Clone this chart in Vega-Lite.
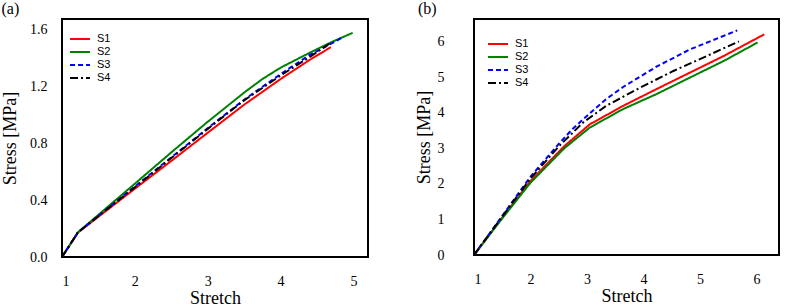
{
  "$schema": "https://vega.github.io/schema/vega-lite/v6.json",
  "padding": {"left": 0, "top": 0, "right": 0, "bottom": 0},
  "spacing": 45,
  "config": {
    "view": {"stroke": "black", "strokeWidth": 2},
    "axis": {"domain": false, "ticks": false, "grid": false, "labelFont": "Liberation Serif", "labelFontSize": 14, "labelColor": "black", "titleFont": "Liberation Serif", "titleFontSize": 18, "titleFontWeight": "normal", "titleColor": "black"},
    "axisX": {"labelPadding": 17, "titlePadding": 1},
    "title": {"font": "Liberation Serif", "fontSize": 16, "fontWeight": "normal", "anchor": "start", "frame": "bounds", "color": "black", "offset": 2},
    "legend": {"labelFont": "Liberation Sans", "labelFontSize": 11, "labelColor": "black", "symbolType": "M-1.5,0H1.5", "symbolSize": 177, "symbolStrokeWidth": 2, "labelOffset": 9, "padding": 0, "rowPadding": 0}
  },
  "hconcat": [
    {
      "title": {"text": "(a)", "dx": 0},
      "width": 306,
      "height": 238,
      "data": {"values": [
        {"s": "S1", "x": 1, "y": 0}, {"s": "S1", "x": 1.22, "y": 0.172}, {"s": "S1", "x": 2, "y": 0.48}, {"s": "S1", "x": 2.5, "y": 0.675}, {"s": "S1", "x": 3, "y": 0.873}, {"s": "S1", "x": 3.5, "y": 1.07}, {"s": "S1", "x": 4, "y": 1.25}, {"s": "S1", "x": 4.4, "y": 1.385}, {"s": "S1", "x": 4.69, "y": 1.474},
        {"s": "S2", "x": 1, "y": 0}, {"s": "S2", "x": 1.22, "y": 0.174}, {"s": "S2", "x": 2, "y": 0.515}, {"s": "S2", "x": 2.5, "y": 0.735}, {"s": "S2", "x": 3, "y": 0.95}, {"s": "S2", "x": 3.5, "y": 1.155}, {"s": "S2", "x": 3.75, "y": 1.25}, {"s": "S2", "x": 4, "y": 1.33}, {"s": "S2", "x": 4.4, "y": 1.435}, {"s": "S2", "x": 4.7, "y": 1.51}, {"s": "S2", "x": 4.99, "y": 1.575},
        {"s": "S3", "x": 1, "y": 0}, {"s": "S3", "x": 1.22, "y": 0.174}, {"s": "S3", "x": 2, "y": 0.495}, {"s": "S3", "x": 2.5, "y": 0.7}, {"s": "S3", "x": 3, "y": 0.905}, {"s": "S3", "x": 3.5, "y": 1.105}, {"s": "S3", "x": 4, "y": 1.285}, {"s": "S3", "x": 4.4, "y": 1.42}, {"s": "S3", "x": 4.7, "y": 1.5}, {"s": "S3", "x": 4.86, "y": 1.545},
        {"s": "S4", "x": 1, "y": 0}, {"s": "S4", "x": 1.22, "y": 0.174}, {"s": "S4", "x": 2, "y": 0.49}, {"s": "S4", "x": 2.5, "y": 0.695}, {"s": "S4", "x": 3, "y": 0.9}, {"s": "S4", "x": 3.5, "y": 1.1}, {"s": "S4", "x": 4, "y": 1.275}, {"s": "S4", "x": 4.4, "y": 1.405}, {"s": "S4", "x": 4.67, "y": 1.498}
      ]},
      "mark": {"type": "line", "strokeWidth": 2, "clip": true},
      "encoding": {
        "x": {"field": "x", "type": "quantitative", "scale": {"domain": [1, 5.2], "nice": false, "zero": false}, "axis": {"values": [1, 2, 3, 4, 5], "title": "Stretch"}},
        "y": {"field": "y", "type": "quantitative", "scale": {"domain": [0, 1.672], "nice": false, "zero": false}, "axis": {"values": [0, 0.4, 0.8, 1.2, 1.6], "format": ".1f", "title": "Stress [MPa]", "labelPadding": 15, "titlePadding": 10}},
        "color": {"field": "s", "type": "nominal", "scale": {"domain": ["S1", "S2", "S3", "S4"], "range": ["#ff0000", "#008000", "#0000ff", "#000000"]}, "legend": {"title": null, "orient": "none", "legendX": 10, "legendY": 12}},
        "strokeDash": {"field": "s", "type": "nominal", "scale": {"domain": ["S1", "S2", "S3", "S4"], "range": [[1, 0], [1, 0], [5, 3], [8, 3, 2, 3]]}, "legend": {"title": null, "orient": "none", "legendX": 10, "legendY": 12}}
      }
    },
    {
      "title": {"text": "(b)", "dx": 3},
      "width": 305,
      "height": 236,
      "data": {"values": [
        {"s": "S1", "x": 1, "y": 0}, {"s": "S1", "x": 1.5, "y": 1.05}, {"s": "S1", "x": 2, "y": 2.08}, {"s": "S1", "x": 2.6, "y": 3.06}, {"s": "S1", "x": 3.05, "y": 3.67}, {"s": "S1", "x": 3.64, "y": 4.19}, {"s": "S1", "x": 4.23, "y": 4.66}, {"s": "S1", "x": 4.83, "y": 5.13}, {"s": "S1", "x": 5.42, "y": 5.59}, {"s": "S1", "x": 6.14, "y": 6.2},
        {"s": "S2", "x": 1, "y": 0}, {"s": "S2", "x": 1.5, "y": 1.03}, {"s": "S2", "x": 2, "y": 2.03}, {"s": "S2", "x": 2.6, "y": 3.0}, {"s": "S2", "x": 3.05, "y": 3.58}, {"s": "S2", "x": 3.64, "y": 4.1}, {"s": "S2", "x": 4.23, "y": 4.52}, {"s": "S2", "x": 4.83, "y": 4.99}, {"s": "S2", "x": 5.42, "y": 5.45}, {"s": "S2", "x": 6.02, "y": 5.97},
        {"s": "S3", "x": 1, "y": 0}, {"s": "S3", "x": 1.5, "y": 1.1}, {"s": "S3", "x": 2, "y": 2.2}, {"s": "S3", "x": 2.5, "y": 3.12}, {"s": "S3", "x": 2.75, "y": 3.55}, {"s": "S3", "x": 3.05, "y": 3.98}, {"s": "S3", "x": 3.34, "y": 4.38}, {"s": "S3", "x": 3.64, "y": 4.72}, {"s": "S3", "x": 4.23, "y": 5.29}, {"s": "S3", "x": 4.83, "y": 5.78}, {"s": "S3", "x": 5.66, "y": 6.31},
        {"s": "S4", "x": 1, "y": 0}, {"s": "S4", "x": 1.5, "y": 1.08}, {"s": "S4", "x": 2, "y": 2.15}, {"s": "S4", "x": 2.5, "y": 3.05}, {"s": "S4", "x": 2.93, "y": 3.72}, {"s": "S4", "x": 3.34, "y": 4.19}, {"s": "S4", "x": 3.94, "y": 4.7}, {"s": "S4", "x": 4.53, "y": 5.17}, {"s": "S4", "x": 5.12, "y": 5.59}, {"s": "S4", "x": 5.69, "y": 6.0}
      ]},
      "mark": {"type": "line", "strokeWidth": 2, "clip": true},
      "encoding": {
        "x": {"field": "x", "type": "quantitative", "scale": {"domain": [1, 6.4], "nice": false, "zero": false}, "axis": {"values": [1, 2, 3, 4, 5, 6], "title": "Stretch"}},
        "y": {"field": "y", "type": "quantitative", "scale": {"domain": [0, 6.63], "nice": false, "zero": false}, "axis": {"values": [0, 1, 2, 3, 4, 5, 6], "title": "Stress [MPa]", "labelPadding": 30, "titlePadding": 4}},
        "color": {"field": "s", "type": "nominal", "scale": {"domain": ["S1", "S2", "S3", "S4"], "range": ["#ff0000", "#008000", "#0000ff", "#000000"]}, "legend": {"title": null, "orient": "none", "legendX": 16, "legendY": 17}},
        "strokeDash": {"field": "s", "type": "nominal", "scale": {"domain": ["S1", "S2", "S3", "S4"], "range": [[1, 0], [1, 0], [5, 3], [8, 3, 2, 3]]}, "legend": {"title": null, "orient": "none", "legendX": 16, "legendY": 17}}
      }
    }
  ],
  "resolve": {"scale": {"color": "independent", "strokeDash": "independent", "x": "independent", "y": "independent"}, "legend": {"color": "independent", "strokeDash": "independent"}}
}
